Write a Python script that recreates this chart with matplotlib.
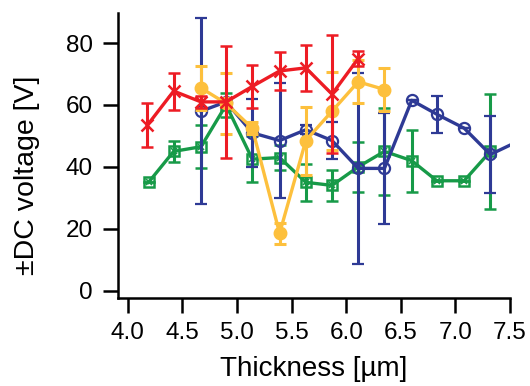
import matplotlib
matplotlib.use("Agg")
import matplotlib.pyplot as plt

plt.rcParams['font.family'] = ['Liberation Sans', 'DejaVu Sans']

# red series (x markers)
red_x = [4.18, 4.42, 4.67, 4.90, 5.14, 5.39, 5.63, 5.87, 6.11]
red_y = [53.5, 64.5, 61, 61, 66, 71, 72, 63.5, 75]
red_err = [7, 6, 2, 18, 7, 6, 7.5, 19, 2.5]

# yellow series (filled circles)
yel_x = [4.67, 4.90, 5.14, 5.39, 5.63, 5.87, 6.11, 6.35]
yel_y = [65.5, 60.5, 52.5, 18.5, 48.5, 58, 67.5, 65]
yel_err = [7, 10, 2, 3.3, 11, 12.7, 7, 7]

# blue series (open circles)
blu_x = [4.67, 4.90, 5.14, 5.39, 5.63, 5.87, 6.11, 6.35, 6.60, 6.83, 7.08, 7.32, 7.6]
blu_y = [58, 61, 51, 48.5, 52, 48.5, 39.5, 39.5, 61.5, 57, 52.5, 44, 48.7]
blu_err = [30, 1, 11, 18.5, 1.5, 6, 31, 18, 0, 6, 0, 12.5, 0]

# green series (boxed x)
grn_x = [4.19, 4.42, 4.67, 4.90, 5.14, 5.39, 5.63, 5.87, 6.11, 6.35, 6.60, 6.83, 7.08, 7.32]
grn_y = [35, 45, 46.5, 60, 42.5, 43, 35, 34, 40, 45, 42, 35.5, 35.5, 45]
grn_err = [0, 3.5, 7, 4, 7.5, 4, 6, 5, 8, 14, 10, 0, 0, 18.5]

RED = '#ED1C24'
YEL = '#FDC03D'
BLU = '#2E3A95'
GRN = '#179A48'

fig = plt.figure(figsize=(5.3, 3.86), dpi=100)
ax = fig.add_axes([0.2226, 0.228, 0.7397, 0.738])

common = dict(lw=2.4, capsize=4.5, capthick=2.2, elinewidth=2.2)

# green
ax.errorbar(grn_x, grn_y, yerr=grn_err, color=GRN, marker='s', ms=7,
            mfc='none', mew=1.8, zorder=2, **common)
ax.plot(grn_x, grn_y, ls='none', marker='x', ms=4.5, mew=1.2, color=GRN, zorder=2)

# blue
ax.errorbar(blu_x, blu_y, yerr=blu_err, color=BLU, marker='o', ms=8,
            mfc='none', mew=1.6, zorder=3, **common)

# yellow
ax.errorbar(yel_x, yel_y, yerr=yel_err, color=YEL, marker='o', ms=9,
            zorder=4, **common)

# red
ax.errorbar(red_x, red_y, yerr=red_err, color=RED, marker='x', ms=9,
            mew=1.8, zorder=5, **common)

ax.set_xlim(3.91, 7.5)
ax.set_ylim(-2.4, 89.7)
ax.set_xticks([4.0, 4.5, 5.0, 5.5, 6.0, 6.5, 7.0, 7.5])
ax.set_yticks([0, 20, 40, 60, 80])
ax.set_xticklabels(['4.0', '4.5', '5.0', '5.5', '6.0', '6.5', '7.0', '7.5'])

for s in ['top', 'right']:
    ax.spines[s].set_visible(False)
for s in ['left', 'bottom']:
    ax.spines[s].set_linewidth(1.8)

ax.tick_params(direction='out', length=11, width=1.8, labelsize=17.5)
ax.tick_params(axis='y', pad=7)
ax.tick_params(axis='x', pad=6)

ax.set_xlabel('Thickness [µm]', fontsize=20)
ax.set_ylabel('±DC voltage [V]', fontsize=20.5)
ax.xaxis.set_label_coords(0.5, -0.205)
ax.yaxis.set_label_coords(-0.2, 0.43)

fig.savefig('out.png', dpi=100)
